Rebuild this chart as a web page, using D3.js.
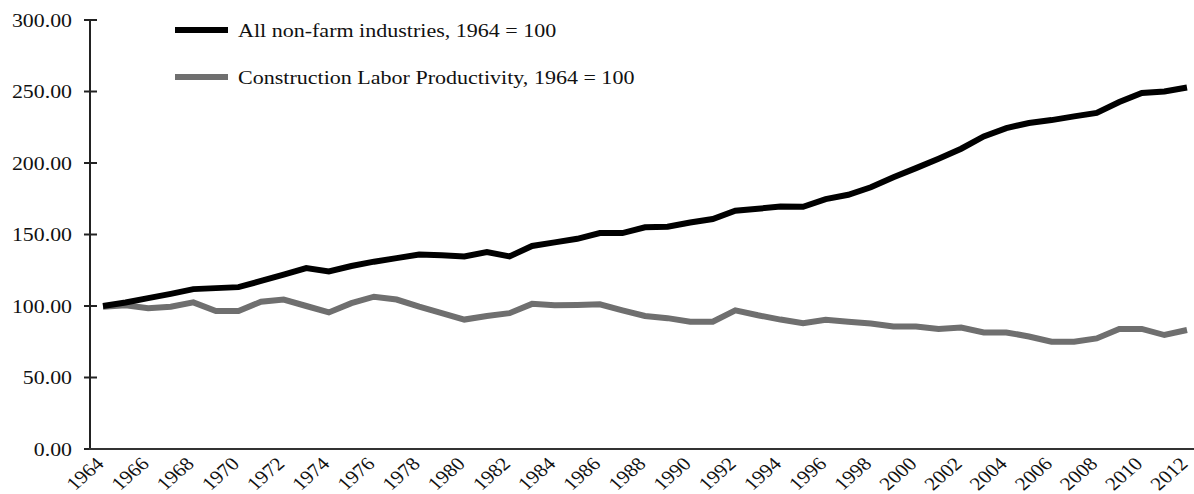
<!DOCTYPE html>
<html>
<head>
  <meta charset="utf-8">
  <style>
    html, body { margin: 0; overflow: hidden; background: #fff; }
    svg { display: block; }
    text { font-family: "Liberation Serif", "Times New Roman", serif; fill: #111; }
    .series { fill: none; stroke-width: 6px; stroke-linejoin: miter; }
  </style>
  <script src="https://d3js.org/d3.v7.min.js"></script>
</head>
<body>
  <svg id="chart" width="1194" height="494"></svg>
  <script>
    var years = d3.range(1964, 2013);
    var nonFarm = [100, 102.5, 105.5, 108.5, 111.8, 112.5, 113.2, 117.5, 122, 126.5,
      124.2, 128, 131, 133.5, 136, 135.5, 134.7, 137.7, 134.7, 142,
      144.5, 147, 151, 151, 155, 155.4, 158.4, 160.8, 166.6, 168,
      169.6, 169.4, 174.7, 177.8, 183, 190, 196.4, 203, 210, 218.6,
      224.4, 228, 230, 232.6, 235, 242.6, 249, 250, 252.8];
    var construction = [99.5, 100.5, 98.5, 99.5, 102.5, 96.5, 96.5, 103, 104.5, 100,
      95.5, 102, 106.5, 104.5, 99.5, 95, 90.5, 93, 95, 101.5,
      100.5, 100.7, 101.2, 97, 93, 91.5, 89, 89, 97, 93.5,
      90.5, 88, 90.3, 89, 87.8, 85.7, 85.7, 84, 85, 81.5,
      81.5, 78.7, 75, 75, 77.3, 84, 84, 79.7, 83.2];
    var yTicks = [0, 50, 100, 150, 200, 250, 300];
    var xTicks = years.filter(function(d){ return (d - 1964) % 2 === 0; });
    var legendLabels = ["All non-farm industries, 1964 = 100", "Construction Labor Productivity, 1964 = 100"];
    var colors = ["#000000", "#6f6f6f"];

    var svg = d3.select("#chart");
    var margin = {left: 90, right: 1194, top: 20, bottom: 449};

    var x = d3.scalePoint().domain(years).range([103, 1187]);
    var y = d3.scaleLinear().domain([0, 300]).range([margin.bottom, margin.top]);

    // y axis
    var yAxis = svg.append("g");
    yAxis.append("line")
      .attr("x1", margin.left).attr("x2", margin.left)
      .attr("y1", margin.top).attr("y2", margin.bottom)
      .attr("stroke", "#222").attr("stroke-width", 2);
    yAxis.selectAll(".tick").data(yTicks).enter().append("line")
      .attr("class", "tick")
      .attr("x1", margin.left - 6).attr("x2", margin.left + 7)
      .attr("y1", function(d){ return y(d); })
      .attr("y2", function(d){ return y(d); })
      .attr("stroke", "#222").attr("stroke-width", 2);
    yAxis.selectAll("text").data(yTicks).enter().append("text")
      .attr("transform", function(d){ return "translate(72," + y(d) + ") scale(1.15,1)"; })
      .attr("dy", "0.35em")
      .attr("text-anchor", "end")
      .style("font-size", "19px")
      .text(function(d){ return d3.format(".2f")(d); });

    // x axis (labels every other year, slanted)
    var xAxis = svg.append("g");
    xAxis.append("line")
      .attr("x1", margin.left - 1).attr("x2", margin.right)
      .attr("y1", margin.bottom).attr("y2", margin.bottom)
      .attr("stroke", "#333").attr("stroke-width", 2);
    xAxis.selectAll("text").data(xTicks).enter().append("text")
      .attr("text-anchor", "end")
      .attr("transform", function(d){ return "translate(" + (x(d) + 2) + "," + (margin.bottom + 16) + ") scale(1.15,1) rotate(-45)"; })
      .style("font-size", "18.5px")
      .text(function(d){ return d; });

    // lines
    var line = d3.line()
      .x(function(d, i){ return x(years[i]); })
      .y(function(d){ return y(d); });

    svg.append("path")
      .attr("class", "series")
      .attr("d", line(construction))
      .attr("stroke", colors[1]);
    svg.append("path")
      .attr("class", "series")
      .attr("d", line(nonFarm))
      .attr("stroke", colors[0]);

    // legend
    var legend = svg.append("g");
    legendLabels.forEach(function(t, i){
      var ly = 30 + i * 47;
      legend.append("line")
        .attr("x1", 175).attr("x2", 228)
        .attr("y1", ly).attr("y2", ly)
        .attr("stroke", colors[i]).attr("stroke-width", 6);
      legend.append("text")
        .attr("transform", "translate(238," + ly + ") scale(1.16,1)")
        .attr("dy", "0.35em")
        .style("font-size", "19px")
        .text(t);
    });
  </script>
</body>
</html>
